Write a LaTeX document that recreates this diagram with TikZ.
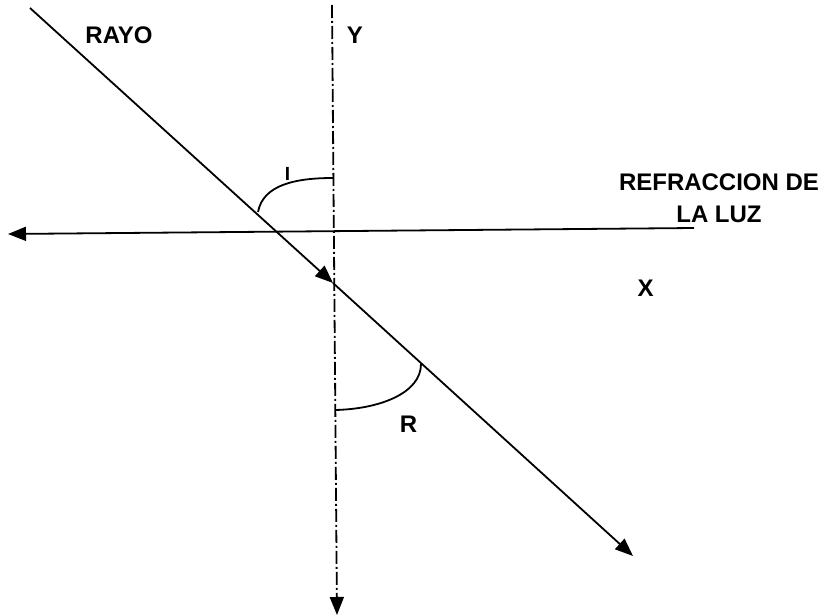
\documentclass[tikz,border=0pt]{standalone}
\usepackage{fontspec}
\setmainfont{Liberation Sans}
\usetikzlibrary{arrows.meta}
\begin{document}
\begin{tikzpicture}[x=1pt,y=-1pt,
  line width=1.8pt,
  tip/.style={-{Triangle[length=18pt,width=14pt]}},
  dashdot/.style={dash pattern=on 13pt off 3pt on 2pt off 3pt},
  lbl/.style={inner sep=0pt,font=\bfseries\fontsize{24}{32}\selectfont},
  lblsmall/.style={inner sep=0pt,font=\bfseries\fontsize{19}{22}\selectfont}]
\useasboundingbox (0,0) rectangle (828,616);
% coordinates
\coordinate (ytop) at (332,5);
\coordinate (ybot) at (337,615);
\coordinate (xright) at (694,228);
\coordinate (xleft) at (8,234);
\coordinate (raystart) at (30,8);
\coordinate (raymid) at (333,283);
\coordinate (rayend) at (633,556);
\coordinate (ia) at (258,212);
\coordinate (ib) at (333,178);
\coordinate (ra) at (335,410);
\coordinate (rb) at (421,364);
% axes
\draw[tip,dashdot] (ytop) -- (ybot);
\draw[tip] (xright) -- (xleft);
% ray
\draw[tip] (raystart) -- (raymid);
\draw[tip] (raymid) -- (rayend);
% angle arcs
\draw (ia) .. controls (263,185) and (295,178) .. (ib);
\draw (ra) .. controls (380,409) and (421,393) .. (rb);
% labels
\node[lbl] (rayo) at (119,35) {RAYO};
\node[lbl] (ylab) at (355,35) {Y};
\node[lblsmall] (ilab) at (287.5,174) {I};
\node[lbl] (rlab) at (408.5,424) {R};
\node[lbl] (xlab) at (645.5,288) {X};
\node[lbl,align=center,anchor=north] (title) at (719,173) {REFRACCION DE\\LA LUZ};
\end{tikzpicture}
\end{document}
